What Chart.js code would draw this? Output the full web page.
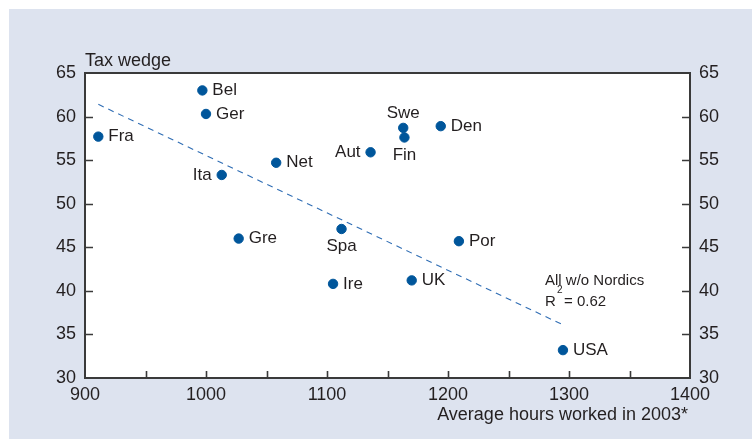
<!DOCTYPE html>
<html><head><meta charset="utf-8">
<script src="https://cdn.jsdelivr.net/npm/chart.js@4"></script>
<style>
html,body{margin:0;padding:0;background:#fff;overflow:hidden;}
#panel{position:absolute;left:9px;top:9px;width:743px;height:430px;background:#dde3ef;}
#wrap{position:absolute;left:0;top:0;width:752px;height:439px;}
</style></head><body>
<div id="panel"></div>
<div id="wrap"><canvas id="c" width="752" height="439"></canvas></div>
<script>
const countries   = ['Fra','Bel','Ger','Ita','Net','Gre','Spa','Ire','Aut','Swe','Fin','Den','UK','Por','USA'];
const hoursWorked = [911, 997, 1000, 1013, 1058, 1027, 1112, 1105, 1136, 1163, 1164, 1194, 1170, 1209, 1295];
const taxWedge    = [57.7, 63.0, 60.3, 53.3, 54.7, 46.0, 47.1, 40.8, 55.9, 58.7, 57.6, 58.9, 41.2, 45.7, 33.2];
const labelSide   = ['right','right','right','left','right','right','below','right','left','above','below','right','right','right','right'];
const trendHours  = [911, 1295];
const trendWedge  = [61.4, 36.1];
const xRange = [900, 1400];
const yRange = [30, 65];
const yTitle = 'Tax wedge';
const xTitle = 'Average hours worked in 2003*';
const noteLine1 = 'All w/o Nordics';
const noteR2 = '0.62';

const FONT = '"Liberation Sans", Arial, Helvetica, sans-serif';
const TXT = '#231f20';
const DOT = '#00569b';

const points = hoursWorked.map((h, i) => ({x: h, y: taxWedge[i]}));
const trend = trendHours.map((h, i) => ({x: h, y: trendWedge[i]}));

const decor = {
  id: 'decor',
  beforeDraw(chart) {
    const {ctx, chartArea: a} = chart;
    ctx.save();
    ctx.fillStyle = '#ffffff';
    ctx.fillRect(a.left, a.top, a.right - a.left, a.bottom - a.top);
    ctx.restore();
  },
  afterDraw(chart) {
    const {ctx, chartArea: a, scales} = chart;
    ctx.save();
    // frame
    ctx.strokeStyle = '#3a3a3a';
    ctx.lineWidth = 2;
    ctx.strokeRect(a.left, a.top, a.right - a.left, a.bottom - a.top);
    // inward ticks
    ctx.lineWidth = 1.6;
    ctx.beginPath();
    scales.x.ticks.forEach(t => {
      const px = Math.round(scales.x.getPixelForValue(t.value)) + 0.5;
      if (t.value === xRange[0] || t.value === xRange[1]) return;
      ctx.moveTo(px, a.bottom); ctx.lineTo(px, a.bottom - 7);
    });
    scales.y.ticks.forEach(t => {
      const py = Math.round(scales.y.getPixelForValue(t.value)) + 0.5;
      if (t.value === yRange[0] || t.value === yRange[1]) return;
      ctx.moveTo(a.left, py); ctx.lineTo(a.left + 8, py);
      ctx.moveTo(a.right, py); ctx.lineTo(a.right - 8, py);
    });
    ctx.stroke();
    // country labels
    const meta = chart.getDatasetMeta(1);
    ctx.fillStyle = TXT;
    ctx.font = '17px ' + FONT;
    meta.data.forEach((el, i) => {
      const side = labelSide[i];
      let x = el.x, y = el.y;
      if (side === 'right') { ctx.textAlign = 'left'; ctx.textBaseline = 'middle'; x += 10; }
      else if (side === 'left') { ctx.textAlign = 'right'; ctx.textBaseline = 'middle'; x -= 10; }
      else if (side === 'above') { ctx.textAlign = 'center'; ctx.textBaseline = 'alphabetic'; y -= 10; }
      else { ctx.textAlign = 'center'; ctx.textBaseline = 'top'; y += 9; }
      ctx.fillText(countries[i], x, y);
    });
    // titles
    ctx.font = '18px ' + FONT;
    ctx.textBaseline = 'alphabetic';
    ctx.textAlign = 'left';
    ctx.fillText(yTitle, a.left, a.top - 7);
    ctx.textAlign = 'right';
    ctx.fillText(xTitle, a.right - 2, a.bottom + 42);
    // note
    ctx.textAlign = 'left';
    ctx.font = '15px ' + FONT;
    const nx = a.left + 460;
    ctx.fillText(noteLine1, nx, a.top + 212);
    ctx.fillText('R', nx, a.top + 233);
    ctx.fillText('= ' + noteR2, nx + 19, a.top + 233);
    ctx.font = '10px ' + FONT;
    ctx.fillText('2', nx + 12, a.top + 220);
    ctx.restore();
  }
};

new Chart(document.getElementById('c'), {
  type: 'scatter',
  data: {
    datasets: [
      {
        type: 'line',
        data: trend,
        borderColor: '#2f6db4',
        borderWidth: 1.1,
        borderDash: [6, 5],
        pointRadius: 0,
        fill: false
      },
      {
        data: points,
        backgroundColor: DOT,
        borderColor: DOT,
        pointRadius: 4.7,
        pointHoverRadius: 4.7
      }
    ]
  },
  options: {
    responsive: false,
    animation: false,
    devicePixelRatio: 1,
    layout: {padding: {top: 73, left: 0, right: 0, bottom: 0}},
    plugins: {legend: {display: false}, tooltip: {enabled: false}},
    scales: {
      x: {
        type: 'linear', position: 'bottom',
        min: xRange[0], max: xRange[1],
        grid: {display: false, drawTicks: false}, border: {display: false},
        afterFit(s) { s.height = 61; },
        ticks: {
          stepSize: 50, autoSkip: false, maxRotation: 0, padding: 6,
          color: TXT, font: {family: FONT, size: 18},
          callback: v => (v % 100 === 0 ? String(v) : '')
        }
      },
      y: {
        type: 'linear', position: 'left',
        min: yRange[0], max: yRange[1],
        grid: {display: false, drawTicks: false}, border: {display: false},
        afterFit(s) { s.width = 85; },
        ticks: {stepSize: 5, padding: 9, color: TXT, font: {family: FONT, size: 18}}
      },
      yR: {
        type: 'linear', position: 'right',
        min: yRange[0], max: yRange[1],
        grid: {display: false, drawTicks: false}, border: {display: false},
        afterFit(s) { s.width = 62; },
        ticks: {stepSize: 5, padding: 9, color: TXT, font: {family: FONT, size: 18}}
      }
    }
  },
  plugins: [decor]
});
</script>
</body></html>
